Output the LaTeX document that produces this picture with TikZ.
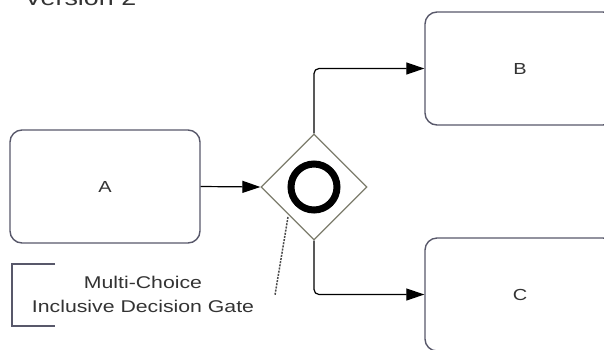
\documentclass[tikz,border=0pt]{standalone}
\usepackage{fontspec}
\usepackage{graphicx}
\setmainfont{Liberation Sans}
\usetikzlibrary{shapes.geometric,arrows.meta}
\definecolor{boxline}{HTML}{58586A}
\definecolor{gateline}{HTML}{7C7C6C}
\newcommand{\wide}[1]{\scalebox{1.25}[1]{#1}}
\tikzset{
  task/.style={draw=boxline, line width=1.4pt, rounded corners=12pt, minimum width=190pt, minimum height=113pt, inner sep=0pt, font=\fontsize{16}{18}\selectfont, text=black!80},
  gate/.style={draw=gateline, line width=1.3pt, diamond, minimum width=106pt, minimum height=106pt, inner sep=0pt},
  ring/.style={draw=black, line width=7pt, circle, minimum size=46pt, inner sep=0pt},
  flow/.style={line width=1.2pt, -{Triangle[length=18pt,width=12pt]}},
  assoc/.style={line width=1.5pt, draw=black!70, dash pattern=on 2pt off 1.2pt},
  note/.style={align=center, font=\fontsize{17}{24}\selectfont, text=black!80, inner sep=0pt}
}
\begin{document}
\begin{tikzpicture}[x=1pt,y=1pt]
\useasboundingbox (0,0) rectangle (604,-349);
\node[anchor=base west, font=\fontsize{21.5}{24}\selectfont, text=black!80, inner sep=0pt] (title) at (24,-5) {\wide{Version 2}};
\node[task] (A) at (105,-186.5) {\wide{A}};
\node[task] (B) at (520,-68.5) {\wide{B}};
\node[task] (C) at (520,-294.5) {\wide{C}};
\node[gate] (G) at (314,-187) {};
\node[ring] (R) at (G.center) {};
\draw[flow] (A.east) -- (G.west);
\draw[flow, rounded corners=5pt] (G.north) |- (B.west);
\draw[flow, rounded corners=5pt] (G.south) |- (C.west);
\coordinate (d1) at (288,-217);
\coordinate (d2) at (275,-295);
\draw[assoc] (d1) -- (d2);
\draw[draw=boxline, line width=1.3pt] (55,-264) -- (12,-264) -- (12,-326) -- (55,-326);
\node[note] (N) at (143,-294) {\wide{Multi-Choice}\\\wide{Inclusive Decision Gate}};
\end{tikzpicture}
\end{document}
